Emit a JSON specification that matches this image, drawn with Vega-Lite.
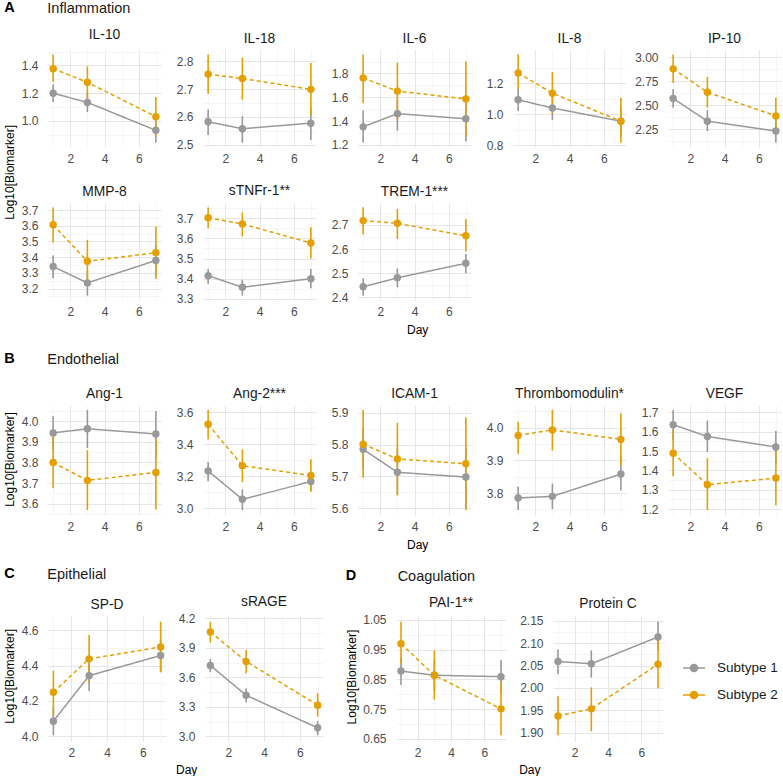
{
"$schema": "https://vega.github.io/schema/vega-lite/v6.json",
"padding": {"left": 4, "top": 0, "right": 2, "bottom": 0},
"background": "white",
"config": {
 "font": "Liberation Sans",
 "view": {"stroke": null},
 "axis": {"domain": false, "ticks": false, "labelFontSize": 12, "labelColor": "#4d4d4d", "labelOverlap": false, "labelFlush": false, "gridColor": "#ebebeb"},
 "axisX": {"labelPadding": 6},
 "axisY": {"labelPadding": 10},
 "title": {"fontSize": 13.8, "fontWeight": "normal", "color": "#1a1a1a", "offset": 4, "anchor": "middle", "frame": "group"}
},
"data": {"values": [
{"m":"IL-10","g":"Subtype 1","d":1,"v":1.199,"lo":1.136,"hi":1.263},
{"m":"IL-10","g":"Subtype 1","d":3,"v":1.132,"lo":1.062,"hi":1.196},
{"m":"IL-10","g":"Subtype 1","d":7,"v":0.931,"lo":0.842,"hi":0.993},
{"m":"IL-10","g":"Subtype 2","d":1,"v":1.376,"lo":1.28,"hi":1.479},
{"m":"IL-10","g":"Subtype 2","d":3,"v":1.278,"lo":1.16,"hi":1.393},
{"m":"IL-10","g":"Subtype 2","d":7,"v":1.029,"lo":0.885,"hi":1.172},
{"m":"IL-18","g":"Subtype 1","d":1,"v":2.582,"lo":2.534,"hi":2.626},
{"m":"IL-18","g":"Subtype 1","d":3,"v":2.557,"lo":2.507,"hi":2.602},
{"m":"IL-18","g":"Subtype 1","d":7,"v":2.577,"lo":2.516,"hi":2.634},
{"m":"IL-18","g":"Subtype 2","d":1,"v":2.754,"lo":2.683,"hi":2.825},
{"m":"IL-18","g":"Subtype 2","d":3,"v":2.738,"lo":2.662,"hi":2.813},
{"m":"IL-18","g":"Subtype 2","d":7,"v":2.699,"lo":2.606,"hi":2.794},
{"m":"IL-6","g":"Subtype 1","d":1,"v":1.352,"lo":1.22,"hi":1.49},
{"m":"IL-6","g":"Subtype 1","d":3,"v":1.463,"lo":1.32,"hi":1.58},
{"m":"IL-6","g":"Subtype 1","d":7,"v":1.42,"lo":1.23,"hi":1.55},
{"m":"IL-6","g":"Subtype 2","d":1,"v":1.763,"lo":1.55,"hi":1.96},
{"m":"IL-6","g":"Subtype 2","d":3,"v":1.652,"lo":1.414,"hi":1.89},
{"m":"IL-6","g":"Subtype 2","d":7,"v":1.586,"lo":1.27,"hi":1.9},
{"m":"IL-8","g":"Subtype 1","d":1,"v":1.093,"lo":1.02,"hi":1.172},
{"m":"IL-8","g":"Subtype 1","d":3,"v":1.04,"lo":0.962,"hi":1.12},
{"m":"IL-8","g":"Subtype 1","d":7,"v":0.955,"lo":0.86,"hi":1.047},
{"m":"IL-8","g":"Subtype 2","d":1,"v":1.265,"lo":1.16,"hi":1.385},
{"m":"IL-8","g":"Subtype 2","d":3,"v":1.135,"lo":1.005,"hi":1.27},
{"m":"IL-8","g":"Subtype 2","d":7,"v":0.955,"lo":0.817,"hi":1.104},
{"m":"IP-10","g":"Subtype 1","d":1,"v":2.572,"lo":2.476,"hi":2.67},
{"m":"IP-10","g":"Subtype 1","d":3,"v":2.336,"lo":2.233,"hi":2.45},
{"m":"IP-10","g":"Subtype 1","d":7,"v":2.233,"lo":2.113,"hi":2.35},
{"m":"IP-10","g":"Subtype 2","d":1,"v":2.88,"lo":2.733,"hi":3.03},
{"m":"IP-10","g":"Subtype 2","d":3,"v":2.637,"lo":2.476,"hi":2.795},
{"m":"IP-10","g":"Subtype 2","d":7,"v":2.39,"lo":2.26,"hi":2.58},
{"m":"MMP-8","g":"Subtype 1","d":1,"v":3.34,"lo":3.266,"hi":3.41},
{"m":"MMP-8","g":"Subtype 1","d":3,"v":3.236,"lo":3.155,"hi":3.315},
{"m":"MMP-8","g":"Subtype 1","d":7,"v":3.379,"lo":3.283,"hi":3.474},
{"m":"MMP-8","g":"Subtype 2","d":1,"v":3.606,"lo":3.494,"hi":3.717},
{"m":"MMP-8","g":"Subtype 2","d":3,"v":3.374,"lo":3.24,"hi":3.51},
{"m":"MMP-8","g":"Subtype 2","d":7,"v":3.428,"lo":3.26,"hi":3.596},
{"m":"sTNFr-1**","g":"Subtype 1","d":1,"v":3.415,"lo":3.375,"hi":3.448},
{"m":"sTNFr-1**","g":"Subtype 1","d":3,"v":3.357,"lo":3.316,"hi":3.395},
{"m":"sTNFr-1**","g":"Subtype 1","d":7,"v":3.4,"lo":3.352,"hi":3.448},
{"m":"sTNFr-1**","g":"Subtype 2","d":1,"v":3.703,"lo":3.65,"hi":3.754},
{"m":"sTNFr-1**","g":"Subtype 2","d":3,"v":3.672,"lo":3.61,"hi":3.729},
{"m":"sTNFr-1**","g":"Subtype 2","d":7,"v":3.577,"lo":3.5,"hi":3.656},
{"m":"TREM-1***","g":"Subtype 1","d":1,"v":2.444,"lo":2.407,"hi":2.479},
{"m":"TREM-1***","g":"Subtype 1","d":3,"v":2.481,"lo":2.441,"hi":2.52},
{"m":"TREM-1***","g":"Subtype 1","d":7,"v":2.541,"lo":2.5,"hi":2.58},
{"m":"TREM-1***","g":"Subtype 2","d":1,"v":2.718,"lo":2.66,"hi":2.773},
{"m":"TREM-1***","g":"Subtype 2","d":3,"v":2.707,"lo":2.642,"hi":2.766},
{"m":"TREM-1***","g":"Subtype 2","d":7,"v":2.655,"lo":2.59,"hi":2.725},
{"m":"Ang-1","g":"Subtype 1","d":1,"v":3.943,"lo":3.862,"hi":4.024},
{"m":"Ang-1","g":"Subtype 1","d":3,"v":3.963,"lo":3.87,"hi":4.054},
{"m":"Ang-1","g":"Subtype 1","d":7,"v":3.938,"lo":3.82,"hi":4.049},
{"m":"Ang-1","g":"Subtype 2","d":1,"v":3.8,"lo":3.675,"hi":3.93},
{"m":"Ang-1","g":"Subtype 2","d":3,"v":3.713,"lo":3.57,"hi":3.86},
{"m":"Ang-1","g":"Subtype 2","d":7,"v":3.752,"lo":3.573,"hi":3.92},
{"m":"Ang-2***","g":"Subtype 1","d":1,"v":3.234,"lo":3.17,"hi":3.29},
{"m":"Ang-2***","g":"Subtype 1","d":3,"v":3.057,"lo":2.99,"hi":3.12},
{"m":"Ang-2***","g":"Subtype 1","d":7,"v":3.168,"lo":3.105,"hi":3.22},
{"m":"Ang-2***","g":"Subtype 2","d":1,"v":3.526,"lo":3.43,"hi":3.615},
{"m":"Ang-2***","g":"Subtype 2","d":3,"v":3.267,"lo":3.164,"hi":3.368},
{"m":"Ang-2***","g":"Subtype 2","d":7,"v":3.206,"lo":3.105,"hi":3.307},
{"m":"ICAM-1","g":"Subtype 1","d":1,"v":5.785,"lo":5.72,"hi":5.852},
{"m":"ICAM-1","g":"Subtype 1","d":3,"v":5.713,"lo":5.643,"hi":5.788},
{"m":"ICAM-1","g":"Subtype 1","d":7,"v":5.698,"lo":5.6,"hi":5.788},
{"m":"ICAM-1","g":"Subtype 2","d":1,"v":5.801,"lo":5.697,"hi":5.908},
{"m":"ICAM-1","g":"Subtype 2","d":3,"v":5.755,"lo":5.64,"hi":5.868},
{"m":"ICAM-1","g":"Subtype 2","d":7,"v":5.74,"lo":5.595,"hi":5.885},
{"m":"Thrombomodulin*","g":"Subtype 1","d":1,"v":3.785,"lo":3.748,"hi":3.819},
{"m":"Thrombomodulin*","g":"Subtype 1","d":3,"v":3.79,"lo":3.751,"hi":3.829},
{"m":"Thrombomodulin*","g":"Subtype 1","d":7,"v":3.858,"lo":3.808,"hi":3.913},
{"m":"Thrombomodulin*","g":"Subtype 2","d":1,"v":3.976,"lo":3.92,"hi":4.018},
{"m":"Thrombomodulin*","g":"Subtype 2","d":3,"v":3.993,"lo":3.93,"hi":4.054},
{"m":"Thrombomodulin*","g":"Subtype 2","d":7,"v":3.964,"lo":3.884,"hi":4.044},
{"m":"VEGF","g":"Subtype 1","d":1,"v":1.636,"lo":1.557,"hi":1.712},
{"m":"VEGF","g":"Subtype 1","d":3,"v":1.575,"lo":1.495,"hi":1.657},
{"m":"VEGF","g":"Subtype 1","d":7,"v":1.521,"lo":1.433,"hi":1.604},
{"m":"VEGF","g":"Subtype 2","d":1,"v":1.488,"lo":1.37,"hi":1.61},
{"m":"VEGF","g":"Subtype 2","d":3,"v":1.326,"lo":1.195,"hi":1.462},
{"m":"VEGF","g":"Subtype 2","d":7,"v":1.36,"lo":1.22,"hi":1.5},
{"m":"SP-D","g":"Subtype 1","d":1,"v":4.086,"lo":4.006,"hi":4.168},
{"m":"SP-D","g":"Subtype 1","d":3,"v":4.343,"lo":4.257,"hi":4.415},
{"m":"SP-D","g":"Subtype 1","d":7,"v":4.457,"lo":4.366,"hi":4.543},
{"m":"SP-D","g":"Subtype 2","d":1,"v":4.25,"lo":4.116,"hi":4.371},
{"m":"SP-D","g":"Subtype 2","d":3,"v":4.438,"lo":4.301,"hi":4.573},
{"m":"SP-D","g":"Subtype 2","d":7,"v":4.505,"lo":4.362,"hi":4.648},
{"m":"sRAGE","g":"Subtype 1","d":1,"v":3.721,"lo":3.652,"hi":3.786},
{"m":"sRAGE","g":"Subtype 1","d":3,"v":3.417,"lo":3.345,"hi":3.486},
{"m":"sRAGE","g":"Subtype 1","d":7,"v":3.086,"lo":3.01,"hi":3.155},
{"m":"sRAGE","g":"Subtype 2","d":1,"v":4.062,"lo":3.952,"hi":4.166},
{"m":"sRAGE","g":"Subtype 2","d":3,"v":3.762,"lo":3.641,"hi":3.879},
{"m":"sRAGE","g":"Subtype 2","d":7,"v":3.317,"lo":3.2,"hi":3.438},
{"m":"PAI-1**","g":"Subtype 1","d":1,"v":0.878,"lo":0.831,"hi":0.923},
{"m":"PAI-1**","g":"Subtype 1","d":3,"v":0.864,"lo":0.813,"hi":0.916},
{"m":"PAI-1**","g":"Subtype 1","d":7,"v":0.859,"lo":0.803,"hi":0.915},
{"m":"PAI-1**","g":"Subtype 2","d":1,"v":0.97,"lo":0.9,"hi":1.044},
{"m":"PAI-1**","g":"Subtype 2","d":3,"v":0.864,"lo":0.782,"hi":0.947},
{"m":"PAI-1**","g":"Subtype 2","d":7,"v":0.751,"lo":0.662,"hi":0.842},
{"m":"Protein C","g":"Subtype 1","d":1,"v":2.059,"lo":2.031,"hi":2.086},
{"m":"Protein C","g":"Subtype 1","d":3,"v":2.054,"lo":2.023,"hi":2.084},
{"m":"Protein C","g":"Subtype 1","d":7,"v":2.114,"lo":2.084,"hi":2.148},
{"m":"Protein C","g":"Subtype 2","d":1,"v":1.937,"lo":1.894,"hi":1.981},
{"m":"Protein C","g":"Subtype 2","d":3,"v":1.953,"lo":1.903,"hi":2.001},
{"m":"Protein C","g":"Subtype 2","d":7,"v":2.053,"lo":1.999,"hi":2.11}
]},
"resolve": {"legend": {"color": "independent"}},
"spacing": 15,
"vconcat": [
{
 "title": {"text": "A", "anchor": "start", "frame": "bounds", "fontSize": 14.5, "fontWeight": "bold", "color": "#000000", "offset": -14.5},
 "resolve": {"legend": {"color": "independent"}},
 "vconcat": [{
  "title": {"text": "Inflammation", "anchor": "start", "frame": "bounds", "fontSize": 14.5, "fontWeight": "normal", "color": "#1a1a1a", "offset": 11, "dx": 43},
  "resolve": {"legend": {"color": "independent"}},
  "vconcat": [{
   "title": {"text": "Day", "orient": "bottom", "anchor": "middle", "frame": "bounds", "fontSize": 12, "fontWeight": "normal", "color": "#000000", "offset": 8, "dx": 25},
   "resolve": {"legend": {"color": "independent"}},
   "vconcat": [{
    "title": {"text": "Log10[Biomarker]", "orient": "left", "anchor": "middle", "frame": "bounds", "fontSize": 12, "fontWeight": "normal", "color": "#000000", "offset": 4},
    "resolve": {"legend": {"color": "independent"}},
    "spacing": 20,
    "vconcat": [
     {"hconcat": [
{"width":113,"height":97,"title":"IL-10","transform":[{"filter":"datum.m === 'IL-10'"}],"encoding":{"x":{"field":"d","type":"quantitative","title":null,"scale":{"domain":[0.7,7.3],"nice":false,"zero":false},"axis":{"values":[1,2,3,4,5,6,7],"format":"d","tickCount":100,"labelOverlap":false,"labelExpr":"datum.value % 2 === 0 ? datum.label : ''","gridColor":{"condition":{"test":"datum.value % 2 === 0","value":"#e6e6e6"},"value":"#f0f0f0"},"gridWidth":{"condition":{"test":"datum.value % 2 === 0","value":1},"value":0.6}}},"color":{"field":"g","type":"nominal","scale":{"domain":["Subtype 1","Subtype 2"],"range":["#999999","#E69F00"]},"legend":null}},"layer":[{"mark":{"type":"rule","strokeWidth":1.6},"encoding":{"y":{"field":"lo","type":"quantitative","title":null,"scale":{"domain":[0.81,1.511],"nice":false,"zero":false},"axis":{"values":[0.9,1,1.1,1.2,1.3,1.4,1.5],"tickCount":100,"labelOverlap":false,"format":".1f","labelExpr":"indexof([1,1.2,1.4], datum.value) >= 0 ? datum.label : ''","gridColor":{"condition":{"test":"indexof([1,1.2,1.4], datum.value) >= 0","value":"#e6e6e6"},"value":"#f0f0f0"},"gridWidth":{"condition":{"test":"indexof([1,1.2,1.4], datum.value) >= 0","value":1},"value":0.6}}},"y2":{"field":"hi"}}},{"mark":{"type":"line","strokeWidth":1.5},"encoding":{"y":{"field":"v","type":"quantitative","title":null},"strokeDash":{"field":"g","type":"nominal","scale":{"domain":["Subtype 1","Subtype 2"],"range":[[1,0],[4,3]]},"legend":null}}},{"mark":{"type":"point","filled":true,"size":55,"opacity":1},"encoding":{"y":{"field":"v","type":"quantitative","title":null}}}]},
{"width":113,"height":97,"title":"IL-18","transform":[{"filter":"datum.m === 'IL-18'"}],"encoding":{"x":{"field":"d","type":"quantitative","title":null,"scale":{"domain":[0.7,7.3],"nice":false,"zero":false},"axis":{"values":[1,2,3,4,5,6,7],"format":"d","tickCount":100,"labelOverlap":false,"labelExpr":"datum.value % 2 === 0 ? datum.label : ''","gridColor":{"condition":{"test":"datum.value % 2 === 0","value":"#e6e6e6"},"value":"#f0f0f0"},"gridWidth":{"condition":{"test":"datum.value % 2 === 0","value":1},"value":0.6}}},"color":{"field":"g","type":"nominal","scale":{"domain":["Subtype 1","Subtype 2"],"range":["#999999","#E69F00"]},"legend":null}},"layer":[{"mark":{"type":"rule","strokeWidth":1.6},"encoding":{"y":{"field":"lo","type":"quantitative","title":null,"scale":{"domain":[2.491,2.841],"nice":false,"zero":false},"axis":{"values":[2.5,2.55,2.6,2.65,2.7,2.75,2.8],"tickCount":100,"labelOverlap":false,"format":".1f","labelExpr":"indexof([2.5,2.6,2.7,2.8], datum.value) >= 0 ? datum.label : ''","gridColor":{"condition":{"test":"indexof([2.5,2.6,2.7,2.8], datum.value) >= 0","value":"#e6e6e6"},"value":"#f0f0f0"},"gridWidth":{"condition":{"test":"indexof([2.5,2.6,2.7,2.8], datum.value) >= 0","value":1},"value":0.6}}},"y2":{"field":"hi"}}},{"mark":{"type":"line","strokeWidth":1.5},"encoding":{"y":{"field":"v","type":"quantitative","title":null},"strokeDash":{"field":"g","type":"nominal","scale":{"domain":["Subtype 1","Subtype 2"],"range":[[1,0],[4,3]]},"legend":null}}},{"mark":{"type":"point","filled":true,"size":55,"opacity":1},"encoding":{"y":{"field":"v","type":"quantitative","title":null}}}]},
{"width":113,"height":97,"title":"IL-6","transform":[{"filter":"datum.m === 'IL-6'"}],"encoding":{"x":{"field":"d","type":"quantitative","title":null,"scale":{"domain":[0.7,7.3],"nice":false,"zero":false},"axis":{"values":[1,2,3,4,5,6,7],"format":"d","tickCount":100,"labelOverlap":false,"labelExpr":"datum.value % 2 === 0 ? datum.label : ''","gridColor":{"condition":{"test":"datum.value % 2 === 0","value":"#e6e6e6"},"value":"#f0f0f0"},"gridWidth":{"condition":{"test":"datum.value % 2 === 0","value":1},"value":0.6}}},"color":{"field":"g","type":"nominal","scale":{"domain":["Subtype 1","Subtype 2"],"range":["#999999","#E69F00"]},"legend":null}},"layer":[{"mark":{"type":"rule","strokeWidth":1.6},"encoding":{"y":{"field":"lo","type":"quantitative","title":null,"scale":{"domain":[1.183,1.997],"nice":false,"zero":false},"axis":{"values":[1.2,1.3,1.4,1.5,1.6,1.7,1.8,1.9],"tickCount":100,"labelOverlap":false,"format":".1f","labelExpr":"indexof([1.2,1.4,1.6,1.8], datum.value) >= 0 ? datum.label : ''","gridColor":{"condition":{"test":"indexof([1.2,1.4,1.6,1.8], datum.value) >= 0","value":"#e6e6e6"},"value":"#f0f0f0"},"gridWidth":{"condition":{"test":"indexof([1.2,1.4,1.6,1.8], datum.value) >= 0","value":1},"value":0.6}}},"y2":{"field":"hi"}}},{"mark":{"type":"line","strokeWidth":1.5},"encoding":{"y":{"field":"v","type":"quantitative","title":null},"strokeDash":{"field":"g","type":"nominal","scale":{"domain":["Subtype 1","Subtype 2"],"range":[[1,0],[4,3]]},"legend":null}}},{"mark":{"type":"point","filled":true,"size":55,"opacity":1},"encoding":{"y":{"field":"v","type":"quantitative","title":null}}}]},
{"width":113,"height":97,"title":"IL-8","transform":[{"filter":"datum.m === 'IL-8'"}],"encoding":{"x":{"field":"d","type":"quantitative","title":null,"scale":{"domain":[0.7,7.3],"nice":false,"zero":false},"axis":{"values":[1,2,3,4,5,6,7],"format":"d","tickCount":100,"labelOverlap":false,"labelExpr":"datum.value % 2 === 0 ? datum.label : ''","gridColor":{"condition":{"test":"datum.value % 2 === 0","value":"#e6e6e6"},"value":"#f0f0f0"},"gridWidth":{"condition":{"test":"datum.value % 2 === 0","value":1},"value":0.6}}},"color":{"field":"g","type":"nominal","scale":{"domain":["Subtype 1","Subtype 2"],"range":["#999999","#E69F00"]},"legend":null}},"layer":[{"mark":{"type":"rule","strokeWidth":1.6},"encoding":{"y":{"field":"lo","type":"quantitative","title":null,"scale":{"domain":[0.789,1.413],"nice":false,"zero":false},"axis":{"values":[0.8,0.9,1,1.1,1.2,1.3],"tickCount":100,"labelOverlap":false,"format":".1f","labelExpr":"indexof([0.8,1,1.2], datum.value) >= 0 ? datum.label : ''","gridColor":{"condition":{"test":"indexof([0.8,1,1.2], datum.value) >= 0","value":"#e6e6e6"},"value":"#f0f0f0"},"gridWidth":{"condition":{"test":"indexof([0.8,1,1.2], datum.value) >= 0","value":1},"value":0.6}}},"y2":{"field":"hi"}}},{"mark":{"type":"line","strokeWidth":1.5},"encoding":{"y":{"field":"v","type":"quantitative","title":null},"strokeDash":{"field":"g","type":"nominal","scale":{"domain":["Subtype 1","Subtype 2"],"range":[[1,0],[4,3]]},"legend":null}}},{"mark":{"type":"point","filled":true,"size":55,"opacity":1},"encoding":{"y":{"field":"v","type":"quantitative","title":null}}}]},
{"width":113,"height":97,"title":"IP-10","transform":[{"filter":"datum.m === 'IP-10'"}],"encoding":{"x":{"field":"d","type":"quantitative","title":null,"scale":{"domain":[0.7,7.3],"nice":false,"zero":false},"axis":{"values":[1,2,3,4,5,6,7],"format":"d","tickCount":100,"labelOverlap":false,"labelExpr":"datum.value % 2 === 0 ? datum.label : ''","gridColor":{"condition":{"test":"datum.value % 2 === 0","value":"#e6e6e6"},"value":"#f0f0f0"},"gridWidth":{"condition":{"test":"datum.value % 2 === 0","value":1},"value":0.6}}},"color":{"field":"g","type":"nominal","scale":{"domain":["Subtype 1","Subtype 2"],"range":["#999999","#E69F00"]},"legend":null}},"layer":[{"mark":{"type":"rule","strokeWidth":1.6},"encoding":{"y":{"field":"lo","type":"quantitative","title":null,"scale":{"domain":[2.067,3.076],"nice":false,"zero":false},"axis":{"values":[2.125,2.25,2.375,2.5,2.625,2.75,2.875,3],"tickCount":100,"labelOverlap":false,"format":".2f","labelExpr":"indexof([2.25,2.5,2.75,3], datum.value) >= 0 ? datum.label : ''","gridColor":{"condition":{"test":"indexof([2.25,2.5,2.75,3], datum.value) >= 0","value":"#e6e6e6"},"value":"#f0f0f0"},"gridWidth":{"condition":{"test":"indexof([2.25,2.5,2.75,3], datum.value) >= 0","value":1},"value":0.6}}},"y2":{"field":"hi"}}},{"mark":{"type":"line","strokeWidth":1.5},"encoding":{"y":{"field":"v","type":"quantitative","title":null},"strokeDash":{"field":"g","type":"nominal","scale":{"domain":["Subtype 1","Subtype 2"],"range":[[1,0],[4,3]]},"legend":null}}},{"mark":{"type":"point","filled":true,"size":55,"opacity":1},"encoding":{"y":{"field":"v","type":"quantitative","title":null}}}]}
     ], "bounds": "flush", "spacing": 42, "resolve": {"legend": {"color": "independent"}}},
     {"hconcat": [
{"width":113,"height":97,"title":"MMP-8","transform":[{"filter":"datum.m === 'MMP-8'"}],"encoding":{"x":{"field":"d","type":"quantitative","title":null,"scale":{"domain":[0.7,7.3],"nice":false,"zero":false},"axis":{"values":[1,2,3,4,5,6,7],"format":"d","tickCount":100,"labelOverlap":false,"labelExpr":"datum.value % 2 === 0 ? datum.label : ''","gridColor":{"condition":{"test":"datum.value % 2 === 0","value":"#e6e6e6"},"value":"#f0f0f0"},"gridWidth":{"condition":{"test":"datum.value % 2 === 0","value":1},"value":0.6}}},"color":{"field":"g","type":"nominal","scale":{"domain":["Subtype 1","Subtype 2"],"range":["#999999","#E69F00"]},"legend":null}},"layer":[{"mark":{"type":"rule","strokeWidth":1.6},"encoding":{"y":{"field":"lo","type":"quantitative","title":null,"scale":{"domain":[3.127,3.745],"nice":false,"zero":false},"axis":{"values":[3.15,3.2,3.25,3.3,3.35,3.4,3.45,3.5,3.55,3.6,3.65,3.7],"tickCount":100,"labelOverlap":false,"format":".1f","labelExpr":"indexof([3.2,3.3,3.4,3.5,3.6,3.7], datum.value) >= 0 ? datum.label : ''","gridColor":{"condition":{"test":"indexof([3.2,3.3,3.4,3.5,3.6,3.7], datum.value) >= 0","value":"#e6e6e6"},"value":"#f0f0f0"},"gridWidth":{"condition":{"test":"indexof([3.2,3.3,3.4,3.5,3.6,3.7], datum.value) >= 0","value":1},"value":0.6}}},"y2":{"field":"hi"}}},{"mark":{"type":"line","strokeWidth":1.5},"encoding":{"y":{"field":"v","type":"quantitative","title":null},"strokeDash":{"field":"g","type":"nominal","scale":{"domain":["Subtype 1","Subtype 2"],"range":[[1,0],[4,3]]},"legend":null}}},{"mark":{"type":"point","filled":true,"size":55,"opacity":1},"encoding":{"y":{"field":"v","type":"quantitative","title":null}}}]},
{"width":113,"height":97,"title":"sTNFr-1**","transform":[{"filter":"datum.m === 'sTNFr-1**'"}],"encoding":{"x":{"field":"d","type":"quantitative","title":null,"scale":{"domain":[0.7,7.3],"nice":false,"zero":false},"axis":{"values":[1,2,3,4,5,6,7],"format":"d","tickCount":100,"labelOverlap":false,"labelExpr":"datum.value % 2 === 0 ? datum.label : ''","gridColor":{"condition":{"test":"datum.value % 2 === 0","value":"#e6e6e6"},"value":"#f0f0f0"},"gridWidth":{"condition":{"test":"datum.value % 2 === 0","value":1},"value":0.6}}},"color":{"field":"g","type":"nominal","scale":{"domain":["Subtype 1","Subtype 2"],"range":["#999999","#E69F00"]},"legend":null}},"layer":[{"mark":{"type":"rule","strokeWidth":1.6},"encoding":{"y":{"field":"lo","type":"quantitative","title":null,"scale":{"domain":[3.294,3.776],"nice":false,"zero":false},"axis":{"values":[3.3,3.35,3.4,3.45,3.5,3.55,3.6,3.65,3.7,3.75],"tickCount":100,"labelOverlap":false,"format":".1f","labelExpr":"indexof([3.3,3.4,3.5,3.6,3.7], datum.value) >= 0 ? datum.label : ''","gridColor":{"condition":{"test":"indexof([3.3,3.4,3.5,3.6,3.7], datum.value) >= 0","value":"#e6e6e6"},"value":"#f0f0f0"},"gridWidth":{"condition":{"test":"indexof([3.3,3.4,3.5,3.6,3.7], datum.value) >= 0","value":1},"value":0.6}}},"y2":{"field":"hi"}}},{"mark":{"type":"line","strokeWidth":1.5},"encoding":{"y":{"field":"v","type":"quantitative","title":null},"strokeDash":{"field":"g","type":"nominal","scale":{"domain":["Subtype 1","Subtype 2"],"range":[[1,0],[4,3]]},"legend":null}}},{"mark":{"type":"point","filled":true,"size":55,"opacity":1},"encoding":{"y":{"field":"v","type":"quantitative","title":null}}}]},
{"width":113,"height":97,"title":"TREM-1***","transform":[{"filter":"datum.m === 'TREM-1***'"}],"encoding":{"x":{"field":"d","type":"quantitative","title":null,"scale":{"domain":[0.7,7.3],"nice":false,"zero":false},"axis":{"values":[1,2,3,4,5,6,7],"format":"d","tickCount":100,"labelOverlap":false,"labelExpr":"datum.value % 2 === 0 ? datum.label : ''","gridColor":{"condition":{"test":"datum.value % 2 === 0","value":"#e6e6e6"},"value":"#f0f0f0"},"gridWidth":{"condition":{"test":"datum.value % 2 === 0","value":1},"value":0.6}}},"color":{"field":"g","type":"nominal","scale":{"domain":["Subtype 1","Subtype 2"],"range":["#999999","#E69F00"]},"legend":null}},"layer":[{"mark":{"type":"rule","strokeWidth":1.6},"encoding":{"y":{"field":"lo","type":"quantitative","title":null,"scale":{"domain":[2.389,2.791],"nice":false,"zero":false},"axis":{"values":[2.4,2.45,2.5,2.55,2.6,2.65,2.7,2.75],"tickCount":100,"labelOverlap":false,"format":".1f","labelExpr":"indexof([2.4,2.5,2.6,2.7], datum.value) >= 0 ? datum.label : ''","gridColor":{"condition":{"test":"indexof([2.4,2.5,2.6,2.7], datum.value) >= 0","value":"#e6e6e6"},"value":"#f0f0f0"},"gridWidth":{"condition":{"test":"indexof([2.4,2.5,2.6,2.7], datum.value) >= 0","value":1},"value":0.6}}},"y2":{"field":"hi"}}},{"mark":{"type":"line","strokeWidth":1.5},"encoding":{"y":{"field":"v","type":"quantitative","title":null},"strokeDash":{"field":"g","type":"nominal","scale":{"domain":["Subtype 1","Subtype 2"],"range":[[1,0],[4,3]]},"legend":null}}},{"mark":{"type":"point","filled":true,"size":55,"opacity":1},"encoding":{"y":{"field":"v","type":"quantitative","title":null}}}]}
     ], "bounds": "flush", "spacing": 42, "resolve": {"legend": {"color": "independent"}}}
    ]
   }]
  }]
 }]
},
{
 "title": {"text": "B", "anchor": "start", "frame": "bounds", "fontSize": 14.5, "fontWeight": "bold", "color": "#000000", "offset": -14.5},
 "resolve": {"legend": {"color": "independent"}},
 "vconcat": [{
  "title": {"text": "Endothelial", "anchor": "start", "frame": "bounds", "fontSize": 14.5, "fontWeight": "normal", "color": "#1a1a1a", "offset": 19, "dx": 43},
  "resolve": {"legend": {"color": "independent"}},
  "vconcat": [{
   "title": {"text": "Day", "orient": "bottom", "anchor": "middle", "frame": "bounds", "fontSize": 12, "fontWeight": "normal", "color": "#000000", "offset": 8, "dx": 25},
   "resolve": {"legend": {"color": "independent"}},
   "vconcat": [{
    "title": {"text": "Log10[Biomarker]", "orient": "left", "anchor": "middle", "frame": "bounds", "fontSize": 12, "fontWeight": "normal", "color": "#000000", "offset": 4},
    "resolve": {"legend": {"color": "independent"}},
    "bounds": "flush", "spacing": 42,
    "hconcat": [
{"width":113,"height":110,"title":"Ang-1","transform":[{"filter":"datum.m === 'Ang-1'"}],"encoding":{"x":{"field":"d","type":"quantitative","title":null,"scale":{"domain":[0.7,7.3],"nice":false,"zero":false},"axis":{"values":[1,2,3,4,5,6,7],"format":"d","tickCount":100,"labelOverlap":false,"labelExpr":"datum.value % 2 === 0 ? datum.label : ''","gridColor":{"condition":{"test":"datum.value % 2 === 0","value":"#e6e6e6"},"value":"#f0f0f0"},"gridWidth":{"condition":{"test":"datum.value % 2 === 0","value":1},"value":0.6}}},"color":{"field":"g","type":"nominal","scale":{"domain":["Subtype 1","Subtype 2"],"range":["#999999","#E69F00"]},"legend":null}},"layer":[{"mark":{"type":"rule","strokeWidth":1.6},"encoding":{"y":{"field":"lo","type":"quantitative","title":null,"scale":{"domain":[3.546,4.078],"nice":false,"zero":false},"axis":{"values":[3.55,3.6,3.65,3.7,3.75,3.8,3.85,3.9,3.95,4,4.05],"tickCount":100,"labelOverlap":false,"format":".1f","labelExpr":"indexof([3.6,3.7,3.8,3.9,4], datum.value) >= 0 ? datum.label : ''","gridColor":{"condition":{"test":"indexof([3.6,3.7,3.8,3.9,4], datum.value) >= 0","value":"#e6e6e6"},"value":"#f0f0f0"},"gridWidth":{"condition":{"test":"indexof([3.6,3.7,3.8,3.9,4], datum.value) >= 0","value":1},"value":0.6}}},"y2":{"field":"hi"}}},{"mark":{"type":"line","strokeWidth":1.5},"encoding":{"y":{"field":"v","type":"quantitative","title":null},"strokeDash":{"field":"g","type":"nominal","scale":{"domain":["Subtype 1","Subtype 2"],"range":[[1,0],[4,3]]},"legend":null}}},{"mark":{"type":"point","filled":true,"size":55,"opacity":1},"encoding":{"y":{"field":"v","type":"quantitative","title":null}}}]},
{"width":113,"height":110,"title":"Ang-2***","transform":[{"filter":"datum.m === 'Ang-2***'"}],"encoding":{"x":{"field":"d","type":"quantitative","title":null,"scale":{"domain":[0.7,7.3],"nice":false,"zero":false},"axis":{"values":[1,2,3,4,5,6,7],"format":"d","tickCount":100,"labelOverlap":false,"labelExpr":"datum.value % 2 === 0 ? datum.label : ''","gridColor":{"condition":{"test":"datum.value % 2 === 0","value":"#e6e6e6"},"value":"#f0f0f0"},"gridWidth":{"condition":{"test":"datum.value % 2 === 0","value":1},"value":0.6}}},"color":{"field":"g","type":"nominal","scale":{"domain":["Subtype 1","Subtype 2"],"range":["#999999","#E69F00"]},"legend":null}},"layer":[{"mark":{"type":"rule","strokeWidth":1.6},"encoding":{"y":{"field":"lo","type":"quantitative","title":null,"scale":{"domain":[2.959,3.646],"nice":false,"zero":false},"axis":{"values":[3,3.1,3.2,3.3,3.4,3.5,3.6],"tickCount":100,"labelOverlap":false,"format":".1f","labelExpr":"indexof([3,3.2,3.4,3.6], datum.value) >= 0 ? datum.label : ''","gridColor":{"condition":{"test":"indexof([3,3.2,3.4,3.6], datum.value) >= 0","value":"#e6e6e6"},"value":"#f0f0f0"},"gridWidth":{"condition":{"test":"indexof([3,3.2,3.4,3.6], datum.value) >= 0","value":1},"value":0.6}}},"y2":{"field":"hi"}}},{"mark":{"type":"line","strokeWidth":1.5},"encoding":{"y":{"field":"v","type":"quantitative","title":null},"strokeDash":{"field":"g","type":"nominal","scale":{"domain":["Subtype 1","Subtype 2"],"range":[[1,0],[4,3]]},"legend":null}}},{"mark":{"type":"point","filled":true,"size":55,"opacity":1},"encoding":{"y":{"field":"v","type":"quantitative","title":null}}}]},
{"width":113,"height":110,"title":"ICAM-1","transform":[{"filter":"datum.m === 'ICAM-1'"}],"encoding":{"x":{"field":"d","type":"quantitative","title":null,"scale":{"domain":[0.7,7.3],"nice":false,"zero":false},"axis":{"values":[1,2,3,4,5,6,7],"format":"d","tickCount":100,"labelOverlap":false,"labelExpr":"datum.value % 2 === 0 ? datum.label : ''","gridColor":{"condition":{"test":"datum.value % 2 === 0","value":"#e6e6e6"},"value":"#f0f0f0"},"gridWidth":{"condition":{"test":"datum.value % 2 === 0","value":1},"value":0.6}}},"color":{"field":"g","type":"nominal","scale":{"domain":["Subtype 1","Subtype 2"],"range":["#999999","#E69F00"]},"legend":null}},"layer":[{"mark":{"type":"rule","strokeWidth":1.6},"encoding":{"y":{"field":"lo","type":"quantitative","title":null,"scale":{"domain":[5.579,5.924],"nice":false,"zero":false},"axis":{"values":[5.6,5.65,5.7,5.75,5.8,5.85,5.9],"tickCount":100,"labelOverlap":false,"format":".1f","labelExpr":"indexof([5.6,5.7,5.8,5.9], datum.value) >= 0 ? datum.label : ''","gridColor":{"condition":{"test":"indexof([5.6,5.7,5.8,5.9], datum.value) >= 0","value":"#e6e6e6"},"value":"#f0f0f0"},"gridWidth":{"condition":{"test":"indexof([5.6,5.7,5.8,5.9], datum.value) >= 0","value":1},"value":0.6}}},"y2":{"field":"hi"}}},{"mark":{"type":"line","strokeWidth":1.5},"encoding":{"y":{"field":"v","type":"quantitative","title":null},"strokeDash":{"field":"g","type":"nominal","scale":{"domain":["Subtype 1","Subtype 2"],"range":[[1,0],[4,3]]},"legend":null}}},{"mark":{"type":"point","filled":true,"size":55,"opacity":1},"encoding":{"y":{"field":"v","type":"quantitative","title":null}}}]},
{"width":113,"height":110,"title":"Thrombomodulin*","transform":[{"filter":"datum.m === 'Thrombomodulin*'"}],"encoding":{"x":{"field":"d","type":"quantitative","title":null,"scale":{"domain":[0.7,7.3],"nice":false,"zero":false},"axis":{"values":[1,2,3,4,5,6,7],"format":"d","tickCount":100,"labelOverlap":false,"labelExpr":"datum.value % 2 === 0 ? datum.label : ''","gridColor":{"condition":{"test":"datum.value % 2 === 0","value":"#e6e6e6"},"value":"#f0f0f0"},"gridWidth":{"condition":{"test":"datum.value % 2 === 0","value":1},"value":0.6}}},"color":{"field":"g","type":"nominal","scale":{"domain":["Subtype 1","Subtype 2"],"range":["#999999","#E69F00"]},"legend":null}},"layer":[{"mark":{"type":"rule","strokeWidth":1.6},"encoding":{"y":{"field":"lo","type":"quantitative","title":null,"scale":{"domain":[3.733,4.069],"nice":false,"zero":false},"axis":{"values":[3.75,3.8,3.85,3.9,3.95,4,4.05],"tickCount":100,"labelOverlap":false,"format":".1f","labelExpr":"indexof([3.8,3.9,4], datum.value) >= 0 ? datum.label : ''","gridColor":{"condition":{"test":"indexof([3.8,3.9,4], datum.value) >= 0","value":"#e6e6e6"},"value":"#f0f0f0"},"gridWidth":{"condition":{"test":"indexof([3.8,3.9,4], datum.value) >= 0","value":1},"value":0.6}}},"y2":{"field":"hi"}}},{"mark":{"type":"line","strokeWidth":1.5},"encoding":{"y":{"field":"v","type":"quantitative","title":null},"strokeDash":{"field":"g","type":"nominal","scale":{"domain":["Subtype 1","Subtype 2"],"range":[[1,0],[4,3]]},"legend":null}}},{"mark":{"type":"point","filled":true,"size":55,"opacity":1},"encoding":{"y":{"field":"v","type":"quantitative","title":null}}}]},
{"width":113,"height":110,"title":"VEGF","transform":[{"filter":"datum.m === 'VEGF'"}],"encoding":{"x":{"field":"d","type":"quantitative","title":null,"scale":{"domain":[0.7,7.3],"nice":false,"zero":false},"axis":{"values":[1,2,3,4,5,6,7],"format":"d","tickCount":100,"labelOverlap":false,"labelExpr":"datum.value % 2 === 0 ? datum.label : ''","gridColor":{"condition":{"test":"datum.value % 2 === 0","value":"#e6e6e6"},"value":"#f0f0f0"},"gridWidth":{"condition":{"test":"datum.value % 2 === 0","value":1},"value":0.6}}},"color":{"field":"g","type":"nominal","scale":{"domain":["Subtype 1","Subtype 2"],"range":["#999999","#E69F00"]},"legend":null}},"layer":[{"mark":{"type":"rule","strokeWidth":1.6},"encoding":{"y":{"field":"lo","type":"quantitative","title":null,"scale":{"domain":[1.169,1.738],"nice":false,"zero":false},"axis":{"values":[1.2,1.25,1.3,1.35,1.4,1.45,1.5,1.55,1.6,1.65,1.7],"tickCount":100,"labelOverlap":false,"format":".1f","labelExpr":"indexof([1.2,1.3,1.4,1.5,1.6,1.7], datum.value) >= 0 ? datum.label : ''","gridColor":{"condition":{"test":"indexof([1.2,1.3,1.4,1.5,1.6,1.7], datum.value) >= 0","value":"#e6e6e6"},"value":"#f0f0f0"},"gridWidth":{"condition":{"test":"indexof([1.2,1.3,1.4,1.5,1.6,1.7], datum.value) >= 0","value":1},"value":0.6}}},"y2":{"field":"hi"}}},{"mark":{"type":"line","strokeWidth":1.5},"encoding":{"y":{"field":"v","type":"quantitative","title":null},"strokeDash":{"field":"g","type":"nominal","scale":{"domain":["Subtype 1","Subtype 2"],"range":[[1,0],[4,3]]},"legend":null}}},{"mark":{"type":"point","filled":true,"size":55,"opacity":1},"encoding":{"y":{"field":"v","type":"quantitative","title":null}}}]}
    ]
   }]
  }]
 }]
},
{
 "resolve": {"legend": {"color": "independent"}},
 "spacing": 22,
 "hconcat": [
 {
  "title": {"text": "C", "anchor": "start", "frame": "bounds", "fontSize": 14.5, "fontWeight": "bold", "color": "#000000", "offset": -14.5},
  "resolve": {"legend": {"color": "independent"}},
  "vconcat": [{
   "title": {"text": "Epithelial", "anchor": "start", "frame": "bounds", "fontSize": 14.5, "fontWeight": "normal", "color": "#1a1a1a", "offset": 12, "dx": 43},
   "resolve": {"legend": {"color": "independent"}},
   "vconcat": [{
    "title": {"text": "Day", "orient": "bottom", "anchor": "middle", "frame": "bounds", "fontSize": 12, "fontWeight": "normal", "color": "#000000", "offset": 7, "dx": 23},
    "resolve": {"legend": {"color": "independent"}},
    "vconcat": [{
     "title": {"text": "Log10[Biomarker]", "orient": "left", "anchor": "middle", "frame": "bounds", "fontSize": 12, "fontWeight": "normal", "color": "#000000", "offset": 4},
     "resolve": {"legend": {"color": "independent"}},
     "bounds": "flush", "spacing": 39,
     "hconcat": [
{"width":118,"height":125,"title":"SP-D","transform":[{"filter":"datum.m === 'SP-D'"}],"encoding":{"x":{"field":"d","type":"quantitative","title":null,"scale":{"domain":[0.7,7.3],"nice":false,"zero":false},"axis":{"values":[1,2,3,4,5,6,7],"format":"d","tickCount":100,"labelOverlap":false,"labelExpr":"datum.value % 2 === 0 ? datum.label : ''","gridColor":{"condition":{"test":"datum.value % 2 === 0","value":"#e6e6e6"},"value":"#f0f0f0"},"gridWidth":{"condition":{"test":"datum.value % 2 === 0","value":1},"value":0.6}}},"color":{"field":"g","type":"nominal","scale":{"domain":["Subtype 1","Subtype 2"],"range":["#999999","#E69F00"]},"legend":null}},"layer":[{"mark":{"type":"rule","strokeWidth":1.6},"encoding":{"y":{"field":"lo","type":"quantitative","title":null,"scale":{"domain":[3.974,4.68],"nice":false,"zero":false},"axis":{"values":[4,4.1,4.2,4.3,4.4,4.5,4.6],"tickCount":100,"labelOverlap":false,"format":".1f","labelExpr":"indexof([4,4.2,4.4,4.6], datum.value) >= 0 ? datum.label : ''","gridColor":{"condition":{"test":"indexof([4,4.2,4.4,4.6], datum.value) >= 0","value":"#e6e6e6"},"value":"#f0f0f0"},"gridWidth":{"condition":{"test":"indexof([4,4.2,4.4,4.6], datum.value) >= 0","value":1},"value":0.6}}},"y2":{"field":"hi"}}},{"mark":{"type":"line","strokeWidth":1.5},"encoding":{"y":{"field":"v","type":"quantitative","title":null},"strokeDash":{"field":"g","type":"nominal","scale":{"domain":["Subtype 1","Subtype 2"],"range":[[1,0],[4,3]]},"legend":null}}},{"mark":{"type":"point","filled":true,"size":55,"opacity":1},"encoding":{"y":{"field":"v","type":"quantitative","title":null}}}]},
{"width":118,"height":125,"title":"sRAGE","transform":[{"filter":"datum.m === 'sRAGE'"}],"encoding":{"x":{"field":"d","type":"quantitative","title":null,"scale":{"domain":[0.7,7.3],"nice":false,"zero":false},"axis":{"values":[1,2,3,4,5,6,7],"format":"d","tickCount":100,"labelOverlap":false,"labelExpr":"datum.value % 2 === 0 ? datum.label : ''","gridColor":{"condition":{"test":"datum.value % 2 === 0","value":"#e6e6e6"},"value":"#f0f0f0"},"gridWidth":{"condition":{"test":"datum.value % 2 === 0","value":1},"value":0.6}}},"color":{"field":"g","type":"nominal","scale":{"domain":["Subtype 1","Subtype 2"],"range":["#999999","#E69F00"]},"legend":null}},"layer":[{"mark":{"type":"rule","strokeWidth":1.6},"encoding":{"y":{"field":"lo","type":"quantitative","title":null,"scale":{"domain":[2.952,4.224],"nice":false,"zero":false},"axis":{"values":[3,3.15,3.3,3.45,3.6,3.75,3.9,4.05,4.2],"tickCount":100,"labelOverlap":false,"format":".1f","labelExpr":"indexof([3,3.3,3.6,3.9,4.2], datum.value) >= 0 ? datum.label : ''","gridColor":{"condition":{"test":"indexof([3,3.3,3.6,3.9,4.2], datum.value) >= 0","value":"#e6e6e6"},"value":"#f0f0f0"},"gridWidth":{"condition":{"test":"indexof([3,3.3,3.6,3.9,4.2], datum.value) >= 0","value":1},"value":0.6}}},"y2":{"field":"hi"}}},{"mark":{"type":"line","strokeWidth":1.5},"encoding":{"y":{"field":"v","type":"quantitative","title":null},"strokeDash":{"field":"g","type":"nominal","scale":{"domain":["Subtype 1","Subtype 2"],"range":[[1,0],[4,3]]},"legend":null}}},{"mark":{"type":"point","filled":true,"size":55,"opacity":1},"encoding":{"y":{"field":"v","type":"quantitative","title":null}}}]}
     ]
    }]
   }]
  }]
 },
 {
  "title": {"text": "D", "anchor": "start", "frame": "bounds", "fontSize": 14.5, "fontWeight": "bold", "color": "#000000", "offset": -14.5},
  "resolve": {"legend": {"color": "independent"}},
  "vconcat": [{
   "title": {"text": "Coagulation", "anchor": "start", "frame": "bounds", "fontSize": 14.5, "fontWeight": "normal", "color": "#1a1a1a", "offset": 12, "dx": 52},
   "resolve": {"legend": {"color": "independent"}},
   "vconcat": [{
    "title": {"text": "Day", "orient": "bottom", "anchor": "middle", "frame": "bounds", "fontSize": 12, "fontWeight": "normal", "color": "#000000", "offset": 7, "dx": -32},
    "resolve": {"legend": {"color": "independent"}},
    "vconcat": [{
     "title": {"text": "Log10[Biomarker]", "orient": "left", "anchor": "middle", "frame": "bounds", "fontSize": 12, "fontWeight": "normal", "color": "#000000", "offset": 4},
     "resolve": {"legend": {"color": "independent"}},
     "bounds": "flush", "spacing": 47,
     "hconcat": [
{"width":110,"height":125,"title":"PAI-1**","transform":[{"filter":"datum.m === 'PAI-1**'"}],"encoding":{"x":{"field":"d","type":"quantitative","title":null,"scale":{"domain":[0.7,7.3],"nice":false,"zero":false},"axis":{"values":[1,2,3,4,5,6,7],"format":"d","tickCount":100,"labelOverlap":false,"labelExpr":"datum.value % 2 === 0 ? datum.label : ''","gridColor":{"condition":{"test":"datum.value % 2 === 0","value":"#e6e6e6"},"value":"#f0f0f0"},"gridWidth":{"condition":{"test":"datum.value % 2 === 0","value":1},"value":0.6}}},"color":{"field":"g","type":"nominal","scale":{"domain":["Subtype 1","Subtype 2"],"range":["#999999","#E69F00"]},"legend":null}},"layer":[{"mark":{"type":"rule","strokeWidth":1.6},"encoding":{"y":{"field":"lo","type":"quantitative","title":null,"scale":{"domain":[0.643,1.063],"nice":false,"zero":false},"axis":{"values":[0.65,0.7,0.75,0.8,0.85,0.9,0.95,1,1.05],"tickCount":100,"labelOverlap":false,"format":".2f","labelExpr":"indexof([0.65,0.75,0.85,0.95,1.05], datum.value) >= 0 ? datum.label : ''","gridColor":{"condition":{"test":"indexof([0.65,0.75,0.85,0.95,1.05], datum.value) >= 0","value":"#e6e6e6"},"value":"#f0f0f0"},"gridWidth":{"condition":{"test":"indexof([0.65,0.75,0.85,0.95,1.05], datum.value) >= 0","value":1},"value":0.6}}},"y2":{"field":"hi"}}},{"mark":{"type":"line","strokeWidth":1.5},"encoding":{"y":{"field":"v","type":"quantitative","title":null},"strokeDash":{"field":"g","type":"nominal","scale":{"domain":["Subtype 1","Subtype 2"],"range":[[1,0],[4,3]]},"legend":null}}},{"mark":{"type":"point","filled":true,"size":55,"opacity":1},"encoding":{"y":{"field":"v","type":"quantitative","title":null}}}]},
{"width":110,"height":125,"title":"Protein C","transform":[{"filter":"datum.m === 'Protein C'"}],"encoding":{"x":{"field":"d","type":"quantitative","title":null,"scale":{"domain":[0.7,7.3],"nice":false,"zero":false},"axis":{"values":[1,2,3,4,5,6,7],"format":"d","tickCount":100,"labelOverlap":false,"labelExpr":"datum.value % 2 === 0 ? datum.label : ''","gridColor":{"condition":{"test":"datum.value % 2 === 0","value":"#e6e6e6"},"value":"#f0f0f0"},"gridWidth":{"condition":{"test":"datum.value % 2 === 0","value":1},"value":0.6}}},"color":{"field":"g","type":"nominal","scale":{"domain":["Subtype 1","Subtype 2"],"range":["#999999","#E69F00"]},"legend":{"title":null,"orient":"none","legendX":129,"legendY":40,"symbolType":"M-1,0H1M-0.32,0A0.32,0.32,0,1,0,0.32,0A0.32,0.32,0,1,0,-0.32,0Z","symbolSize":484,"symbolStrokeWidth":1.6,"labelFontSize":13.5,"labelColor":"#1a1a1a","labelOffset":11,"rowPadding":8,"encode":{"symbols":{"update":{"fill":{"scale":"color","field":"value"},"stroke":{"scale":"color","field":"value"},"strokeWidth":{"value":1.6},"opacity":{"value":1}}}}}}},"layer":[{"mark":{"type":"rule","strokeWidth":1.6},"encoding":{"y":{"field":"lo","type":"quantitative","title":null,"scale":{"domain":[1.881,2.161],"nice":false,"zero":false},"axis":{"values":[1.9,1.925,1.95,1.975,2,2.025,2.05,2.075,2.1,2.125,2.15],"tickCount":100,"labelOverlap":false,"format":".2f","labelExpr":"indexof([1.9,1.95,2,2.05,2.1,2.15], datum.value) >= 0 ? datum.label : ''","gridColor":{"condition":{"test":"indexof([1.9,1.95,2,2.05,2.1,2.15], datum.value) >= 0","value":"#e6e6e6"},"value":"#f0f0f0"},"gridWidth":{"condition":{"test":"indexof([1.9,1.95,2,2.05,2.1,2.15], datum.value) >= 0","value":1},"value":0.6}}},"y2":{"field":"hi"}}},{"mark":{"type":"line","strokeWidth":1.5},"encoding":{"y":{"field":"v","type":"quantitative","title":null},"strokeDash":{"field":"g","type":"nominal","scale":{"domain":["Subtype 1","Subtype 2"],"range":[[1,0],[4,3]]},"legend":null}}},{"mark":{"type":"point","filled":true,"size":55,"opacity":1},"encoding":{"y":{"field":"v","type":"quantitative","title":null}}}]}
     ]
    }]
   }]
  }]
 }
 ]
}
]
}
